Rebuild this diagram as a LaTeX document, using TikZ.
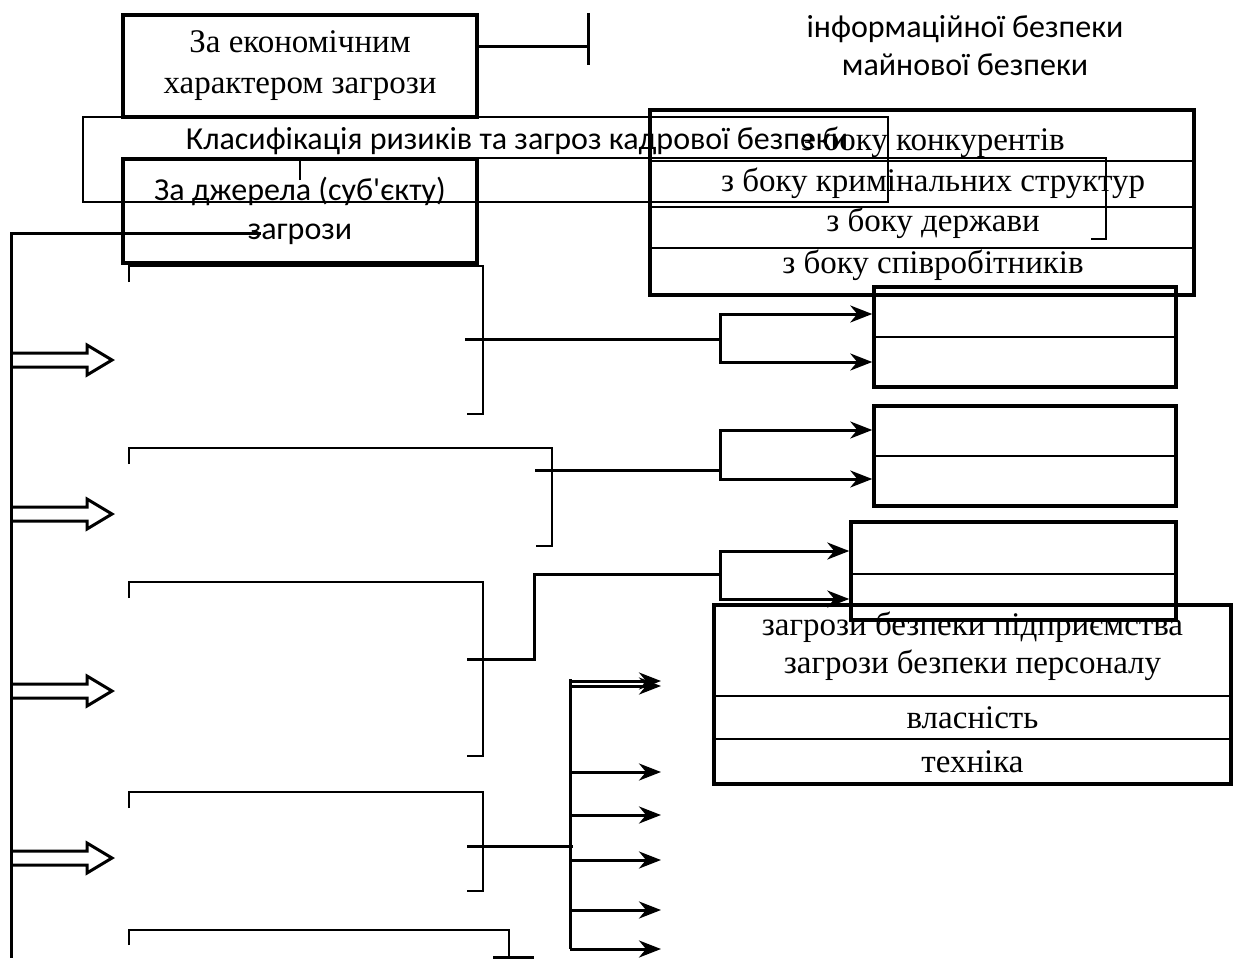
\documentclass[tikz,border=0pt]{standalone}
\usepackage{fontspec}
\setmainfont{Liberation Serif}
\newfontfamily\calibri{Carlito}
\usetikzlibrary{arrows.meta,calc}

\begin{document}
\begin{tikzpicture}[x=1pt,y=-1pt]
	\tikzstyle{frame} = [draw,line width=3.5pt,inner sep=0pt]
	\tikzstyle{thinframe} = [draw,line width=2.5pt,inner sep=0pt]
	\tikzstyle{serif} = [font=\fontsize{33}{41}\selectfont,align=center,inner sep=0pt]
	\tikzstyle{sans} = [font=\calibri\fontsize{32}{39}\selectfont,align=center,inner sep=0pt]
	\tikzstyle{rowline} = [line width=2.5pt]
	\tikzstyle{bracket} = [line width=2pt]
	\tikzstyle{conn} = [line width=3pt]
	\tikzstyle{myarrow} = [-{Stealth[length=22pt,width=17pt,inset=7pt]},line width=3pt]
	\tikzstyle{hollow} = [line width=3pt,line join=miter]

	\useasboundingbox (0,0) rectangle (1241,958);

	% Nodes
	\node [frame, minimum width=354, minimum height=102, serif] (econ) at (300,66) {За економічним\\характером загрози};
	\node [thinframe, minimum width=805, minimum height=85] (classif) at (485.5,159.5) {};
	\node [sans] (classifTitle) at (517,141) {Класифікація ризиків та загроз кадрової безпеки};
	\node [frame, minimum width=354, minimum height=104, sans] (source) at (300,211) {За джерела (суб'єкту)\\загрози};
	\node [sans, font=\calibri\fontsize{32}{38}\selectfont] (infoText) at (965,46) {інформаційної безпеки\\майнової безпеки};

	% sides table
	\node [frame, minimum width=544, minimum height=185] (sides) at (922,202.5) {};
	\foreach \y in {161,207,248}
		\draw [rowline] (sides.west |- 0,\y) -- (sides.east |- 0,\y);
	\foreach \t/\y in {з боку конкурентів/142, з боку кримінальних структур/183, з боку держави/223, з боку співробітників/265}
		\node [serif] (side\y) at (933,\y) {\t};

	% empty boxes on the right
	\node [frame, minimum width=302, minimum height=100] (boxA) at (1025,337) {};
	\node [frame, minimum width=302, minimum height=100] (boxB) at (1025,456) {};
	\node [frame, minimum width=325, minimum height=98] (boxC) at (1013.5,571) {};
	\draw [rowline] (boxA.west) -- (boxA.east);
	\draw [rowline] (boxB.west) -- (boxB.east);
	\draw [rowline] (boxC.west |- 0,574) -- (boxC.east |- 0,574);

	% threats table
	\node [frame, minimum width=517, minimum height=179] (threats) at (972.5,694.5) {};
	\draw [rowline] (threats.west |- 0,696) -- (threats.east |- 0,696);
	\draw [rowline] (threats.west |- 0,739) -- (threats.east |- 0,739);
	\node [serif, font=\fontsize{33}{38}\selectfont] (threat) at (972.5,646) {загрози безпеки підприємства\\загрози безпеки персоналу};
	\node [serif] (property) at (972.5,718) {власність};
	\node [serif] (tech) at (972.5,762) {техніка};

	% brackets
	\draw [bracket] (300,180) -- (300,158) -- (1106,158) -- (1106,239) -- (1091,239);
	\foreach \t/\b/\r in {266/414/483, 448/546/552, 582/756/483, 792/891/483}
		\draw [bracket] (129,\t+16) -- (129,\t) -- (\r,\t) -- (\r,\b) -- (\r-16,\b);
	\draw [bracket] (129,945) -- (129,930) -- (509,930) -- (509,958);

	% spine with hollow arrows
	\coordinate (spine) at (11,233);
	\draw [conn] (261,233) -- (spine) -- (11,958);
	\foreach \y in {360,514,691,858}
		\draw [hollow] (11,\y-7) -- (87,\y-7) -- (87,\y-15) -- (112,\y) -- (87,\y+15) -- (87,\y+7) -- (11,\y+7);

	% econ tick
	\coordinate (econTick) at (588,47);
	\draw [conn] (econ.east |- econTick) -- (econTick);
	\draw [conn] (588,13) -- (588,65);

	% connectors
	\coordinate (out1) at (465,339);
	\coordinate (fork1) at (720,339);
	\draw [conn] (out1) -- (fork1);
	\draw [myarrow] (fork1) |- (boxA.west |- 0,314);
	\draw [myarrow] (fork1) |- (boxA.west |- 0,362);

	\coordinate (out2) at (535,470);
	\coordinate (fork2) at (720,470);
	\draw [conn] (out2) -- (fork2);
	\draw [myarrow] (fork2) |- (boxB.west |- 0,430);
	\draw [myarrow] (fork2) |- (boxB.west |- 0,479);

	\coordinate (out3) at (467,659);
	\coordinate (fork3) at (720,574);
	\draw [conn] (out3) -- (534,659) -- (534,574) -- (fork3);
	\draw [myarrow] (fork3) |- (boxC.west |- 0,551);
	\draw [myarrow] (fork3) |- (boxC.west |- 0,599);

	\coordinate (out4) at (467,846);
	\coordinate (fork4) at (570,846);
	\draw [conn] (out4) -- (573,846);
	\draw [conn] (570,679) -- (570,949);
	\foreach \y [count=\i] in {681,686,772,815,860,910,949} {
		\coordinate (end\i) at (661,\y);
		\draw [myarrow] (fork4 |- end\i) -- (end\i);
	}
	\draw [conn] (493,957) -- (534,957);
\end{tikzpicture}
\end{document}
